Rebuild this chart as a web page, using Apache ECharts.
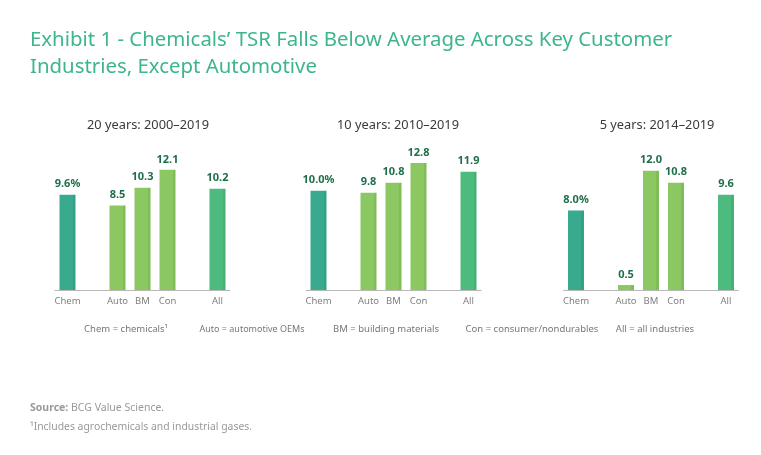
<!DOCTYPE html>
<html>
<head>
<meta charset="utf-8">
<script src="https://cdn.jsdelivr.net/npm/echarts@6/dist/echarts.min.js"></script>
<style>
  html, body { margin: 0; padding: 0; background: #fff; }
  #chart { width: 761px; height: 455px; }
</style>
</head>
<body>
<div id="chart"></div>
<script>
// categories, with blank slots used as gaps between groups
var categories = ["Chem", "", "Auto", "BM", "Con", "", "All"];
var panelTitles = ["20 years: 2000\u20132019", "10 years: 2010\u20132019", "5 years: 2014\u20132019"];
var tsr20 = [9.6, null, 8.5, 10.3, 12.1, null, 10.2];
var tsr10 = [10.0, null, 9.8, 10.8, 12.8, null, 11.9];
var tsr5 = [8.0, null, 0.5, 12.0, 10.8, null, 9.6];
var legendItems = ["Chem = chemicals\u00b9", "Auto = automotive OEMs", "BM = building materials", "Con = consumer/nondurables", "All = all industries"];

var font = "'Noto Sans', 'Open Sans', sans-serif";
var barColors = {
  Chem: ["#3aaa8f", "#35a088"],
  Auto: ["#8cc862", "#80bc58"],
  BM: ["#8cc862", "#80bc58"],
  Con: ["#8cc862", "#80bc58"],
  All: ["#4cbb7d", "#46b075"]
};

function makeData(values) {
  return values.map(function (v, i) {
    var c = barColors[categories[i]];
    if (v === null || !c) return { value: null };
    return {
      value: v,
      itemStyle: {
        color: new echarts.graphic.LinearGradient(0, 0, 1, 0, [
          { offset: 0, color: c[0] },
          { offset: 0.84, color: c[0] },
          { offset: 0.84, color: c[1] },
          { offset: 1, color: c[1] }
        ])
      }
    };
  });
}

var chart = echarts.init(document.getElementById("chart"));
var lefts = [55, 306, 563.5];
var centers = [143, 393, 652];
var allValues = [tsr20, tsr10, tsr5];

var grids = [], xAxes = [], yAxes = [], series = [], titles = [];
titles.push({
  text: "Exhibit 1 - Chemicals\u2019 TSR Falls Below Average Across Key Customer\nIndustries, Except Automotive",
  left: 25,
  top: 22,
  textStyle: { fontFamily: font, fontSize: 20.4, fontWeight: "normal", color: "#3db58e", lineHeight: 27 }
});

for (var p = 0; p < 3; p++) {
  grids.push({ left: lefts[p], width: 175, top: 151, bottom: 165 });
  xAxes.push({
    type: "category",
    gridIndex: p,
    data: categories,
    axisLine: { lineStyle: { color: "#b8b8b8", width: 1 } },
    axisTick: { show: false },
    axisLabel: { color: "#808080", fontFamily: font, fontSize: 9.5, margin: 6, interval: 0 }
  });
  yAxes.push({
    type: "value",
    gridIndex: p,
    min: 0,
    max: 14,
    show: false,
    splitLine: { show: false }
  });
  series.push({
    type: "bar",
    xAxisIndex: p,
    yAxisIndex: p,
    barWidth: 16,
    data: makeData(allValues[p]),
    label: {
      show: true,
      position: "top",
      distance: 5,
      color: "#1f6e4a",
      fontFamily: font,
      fontSize: 11,
      fontWeight: "bold",
      formatter: function (d) {
        if (d.value == null) return "";
        return d.value.toFixed(1) + (d.name === "Chem" ? "%" : "");
      }
    }
  });
  titles.push({
    text: panelTitles[p],
    left: centers[p],
    top: 114,
    textAlign: "center",
    textStyle: { fontFamily: font, fontSize: 12.8, fontWeight: "normal", color: "#3a3a3a" }
  });
}

var legendX = [126, 252, 386, 532, 655];
var graphics = legendItems.map(function (t, i) {
  return {
    type: "text",
    x: legendX[i],
    y: 329,
    style: { text: t, fontFamily: font, fontSize: i === 1 ? 9 : 9.5, fill: "#777", align: "center", verticalAlign: "middle" }
  };
});
graphics.push({
  type: "text",
  x: 30,
  y: 408,
  style: {
    text: "{b|Source:} BCG Value Science.",
    rich: { b: { fontWeight: "bold", fontFamily: font, fontSize: 10.5, fill: "#999" } },
    fontFamily: font, fontSize: 10.5, fill: "#999", verticalAlign: "middle"
  }
});
graphics.push({
  type: "text",
  x: 30,
  y: 427,
  style: {
    text: "\u00b9Includes agrochemicals and industrial gases.",
    fontFamily: font, fontSize: 10.4, fill: "#999", verticalAlign: "middle"
  }
});

var option = {
  animation: false,
  backgroundColor: "#fff",
  title: titles,
  grid: grids,
  xAxis: xAxes,
  yAxis: yAxes,
  series: series,
  graphic: graphics
};
chart.setOption(option);
</script>
</body>
</html>
